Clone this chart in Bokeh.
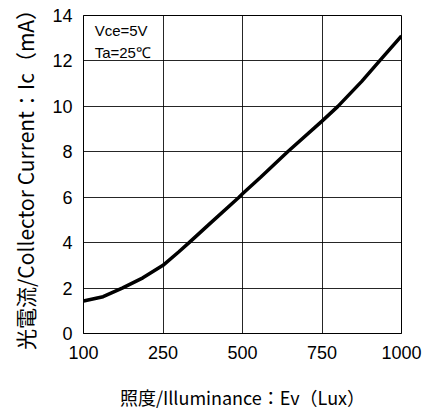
import numpy as np
from bokeh.plotting import figure
from bokeh.models import Range1d, FixedTicker, Label, Title
from bokeh.embed import file_html
from bokeh.resources import INLINE

# Data
x_ticks = [100, 250, 500, 750, 1000]
x_tick_labels = ["100", "250", "500", "750", "1000"]
y_ticks = [0, 2, 4, 6, 8, 10, 12, 14]
lux = [100, 137, 173, 212, 250, 300, 332, 400, 489, 500, 557, 642, 750, 800, 875, 931, 1000]
ic_ma = [1.43, 1.62, 2.0, 2.45, 3.0, 3.6, 4.0, 4.87, 6.0, 6.15, 6.88, 8.0, 9.35, 10.0, 11.1, 12.0, 13.1]

# axis is evenly spaced between tick values
pos = np.interp(lux, x_ticks, list(range(len(x_ticks))))

p = figure(width=424, height=414, output_backend="svg", toolbar_location=None,
           x_range=Range1d(0, len(x_ticks) - 1), y_range=Range1d(0, 14),
           min_border_left=83, min_border_right=23, min_border_top=15, min_border_bottom=81)
p.background_fill_color = "white"
p.border_fill_color = "white"
p.outline_line_color = "black"
p.outline_line_width = 1

p.xaxis.ticker = FixedTicker(ticks=list(range(len(x_ticks))))
p.xaxis.major_label_overrides = {i: t for i, t in enumerate(x_tick_labels)}
p.yaxis.ticker = FixedTicker(ticks=y_ticks)
for ax in (p.xaxis[0], p.yaxis[0]):
    ax.major_tick_line_color = None
    ax.minor_tick_line_color = None
    ax.major_tick_out = 0
    ax.major_tick_in = 0
    ax.minor_tick_out = 0
    ax.minor_tick_in = 0
    ax.axis_line_color = "black"
    ax.major_label_text_font = "Liberation Sans"
    ax.major_label_text_font_size = "18px"
    ax.major_label_text_color = "black"
    ax.axis_label_text_font_style = "normal"
    ax.axis_label_text_color = "black"
p.xaxis.major_label_standoff = 12
p.yaxis.major_label_standoff = 11
p.xaxis.axis_label = "照度/Illuminance：Ev（Lux）"
p.xaxis.axis_label_text_font = "Noto Sans CJK JP"
p.xaxis.axis_label_text_font_size = "18px"
p.xaxis.axis_label_standoff = 22

# y-axis title as a side title (sits a little lower than the frame centre)
p.add_layout(Title(text="光電流/Collector Current：Ic（mA）", align="center", offset=-28,
                   text_font="Noto Sans CJK JP", text_font_size="21px",
                   text_font_style="normal", text_color="black", standoff=16,
                   vertical_align="top"), "left")

p.xgrid.ticker = FixedTicker(ticks=list(range(len(x_ticks))))
p.ygrid.ticker = FixedTicker(ticks=y_ticks)
for g in (p.xgrid[0], p.ygrid[0]):
    g.grid_line_color = "black"
    g.grid_line_alpha = 0.85
    g.grid_line_width = 1

p.line(pos, ic_ma, line_color="black", line_width=3.5)

p.add_layout(Label(x=0.14, y=13.33, text="Vce=5V", text_font="Liberation Sans",
                   text_font_size="15px", text_color="black", text_baseline="middle"))
p.add_layout(Label(x=0.14, y=12.38, text="Ta=25℃", text_font="Liberation Sans",
                   text_font_size="15px", text_color="black", text_baseline="middle"))

open("out.html", "w").write(file_html(p, INLINE))
